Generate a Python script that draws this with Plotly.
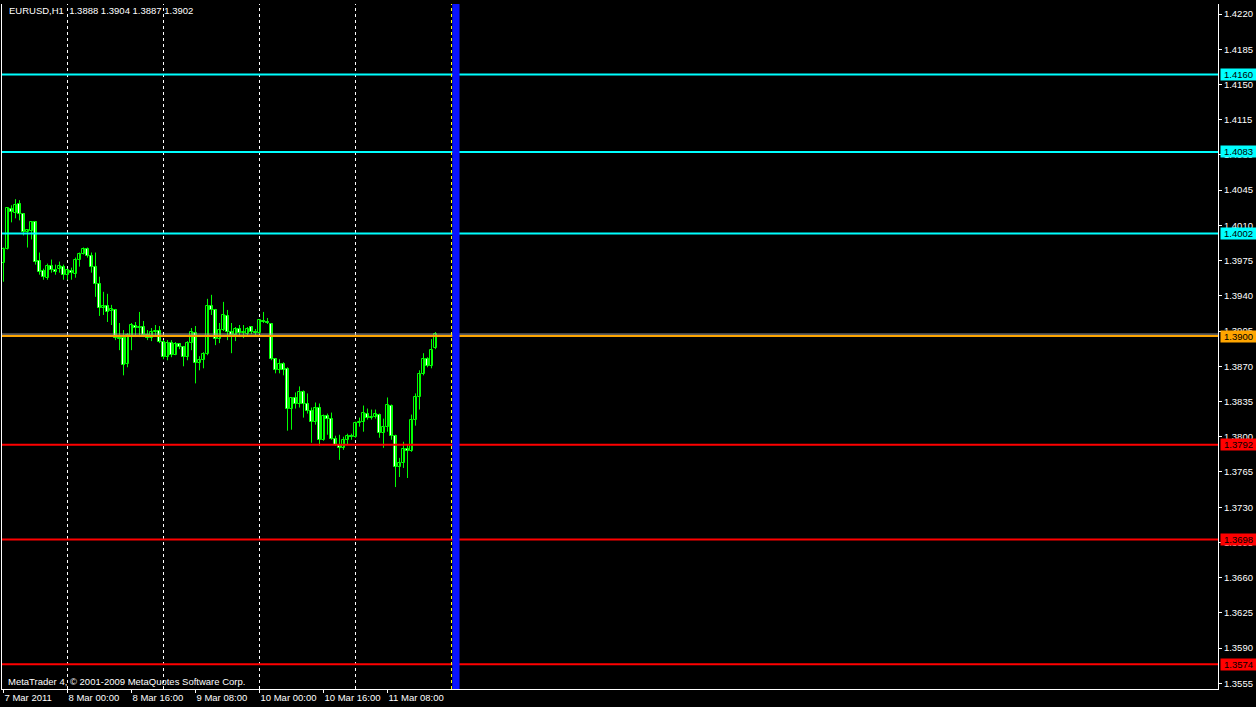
import plotly.graph_objects as go

# ---------------- data ----------------
symbol_title = "EURUSD,H1  1.3888 1.3904 1.3887 1.3902"
copyright_text = "MetaTrader 4, \u00a9 2001-2009 MetaQuotes Software Corp."

# H1 bars, index 0 = 7 Mar 2011 08:00
opens = [1.3973, 1.3987, 1.4026, 1.4022, 1.4031, 1.4021, 1.4003, 1.4004, 1.4013, 1.3975,
         1.3965, 1.3958, 1.3970, 1.3966, 1.3967, 1.3969, 1.3961, 1.3965, 1.3962, 1.3976,
         1.3982, 1.3987, 1.3980, 1.3969, 1.3952, 1.3928, 1.3930, 1.3925, 1.3926, 1.3898,
         1.3898, 1.3872, 1.3900, 1.3910, 1.3908, 1.3909, 1.3901, 1.3898, 1.3904, 1.3905,
         1.3894, 1.3879, 1.3893, 1.3881, 1.3892, 1.3889, 1.3879, 1.3893, 1.3903, 1.3873,
         1.3876, 1.3882, 1.3930, 1.3926, 1.3897, 1.3906, 1.3920, 1.3904, 1.3901, 1.3907,
         1.3903, 1.3902, 1.3909, 1.3904, 1.3903, 1.3915, 1.3914, 1.3912, 1.3877, 1.3866,
         1.3872, 1.3867, 1.3828, 1.3838, 1.3833, 1.3844, 1.3833, 1.3826, 1.3815, 1.3829,
         1.3797, 1.3821, 1.3818, 1.3798, 1.3792, 1.3789, 1.3797, 1.3801, 1.3800, 1.3814,
         1.3815, 1.3823, 1.3819, 1.3820, 1.3822, 1.3804, 1.3810, 1.3831, 1.3801, 1.3770,
         1.3774, 1.3788, 1.3786, 1.3817, 1.3839, 1.3862, 1.3877, 1.3870, 1.3888]
highs = [1.3988, 1.4028, 1.4030, 1.4036, 1.4035, 1.4022, 1.4006, 1.4014, 1.4014, 1.3983,
         1.3967, 1.3972, 1.3976, 1.3971, 1.3974, 1.3971, 1.3967, 1.3968, 1.3978, 1.3983,
         1.3988, 1.3988, 1.3983, 1.3983, 1.3959, 1.3944, 1.3942, 1.3931, 1.3927, 1.3913,
         1.3906, 1.3903, 1.3913, 1.3914, 1.3924, 1.3915, 1.3906, 1.3908, 1.3911, 1.3910,
         1.3896, 1.3896, 1.3896, 1.3894, 1.3893, 1.3890, 1.3895, 1.3908, 1.3910, 1.3880,
         1.3884, 1.3937, 1.3941, 1.3927, 1.3913, 1.3934, 1.3926, 1.3913, 1.3909, 1.3911,
         1.3911, 1.3909, 1.3910, 1.3907, 1.3917, 1.3924, 1.3918, 1.3913, 1.3878, 1.3877,
         1.3874, 1.3869, 1.3839, 1.3844, 1.3850, 1.3846, 1.3843, 1.3829, 1.3834, 1.3833,
         1.3822, 1.3823, 1.3824, 1.3801, 1.3802, 1.3800, 1.3803, 1.3803, 1.3815, 1.3819,
         1.3831, 1.3828, 1.3827, 1.3827, 1.3823, 1.3818, 1.3839, 1.3832, 1.3802, 1.3779,
         1.3795, 1.3792, 1.3822, 1.3843, 1.3866, 1.3883, 1.3879, 1.3897, 1.3904]
lows = [1.3954, 1.3986, 1.4013, 1.4017, 1.4015, 1.4000, 1.3988, 1.3996, 1.3971, 1.3961,
        1.3956, 1.3956, 1.3963, 1.3961, 1.3963, 1.3956, 1.3956, 1.3956, 1.3958, 1.3969,
        1.3981, 1.3978, 1.3963, 1.3939, 1.3920, 1.3921, 1.3914, 1.3911, 1.3896, 1.3886,
        1.3861, 1.3869, 1.3886, 1.3899, 1.3899, 1.3899, 1.3896, 1.3895, 1.3900, 1.3893,
        1.3877, 1.3876, 1.3879, 1.3881, 1.3887, 1.3870, 1.3876, 1.3886, 1.3853, 1.3866,
        1.3868, 1.3881, 1.3921, 1.3891, 1.3893, 1.3905, 1.3896, 1.3883, 1.3895, 1.3899,
        1.3898, 1.3900, 1.3902, 1.3901, 1.3902, 1.3913, 1.3912, 1.3876, 1.3863, 1.3863,
        1.3861, 1.3806, 1.3807, 1.3828, 1.3829, 1.3819, 1.3823, 1.3794, 1.3812, 1.3791,
        1.3796, 1.3802, 1.3797, 1.3791, 1.3777, 1.3787, 1.3792, 1.3797, 1.3799, 1.3810,
        1.3805, 1.3817, 1.3817, 1.3818, 1.3799, 1.3789, 1.3805, 1.3797, 1.3750, 1.3760,
        1.3769, 1.3759, 1.3785, 1.3811, 1.3827, 1.3861, 1.3869, 1.3868, 1.3887]
closes = [1.3987, 1.4027, 1.4023, 1.4030, 1.4021, 1.4003, 1.4005, 1.4013, 1.3974, 1.3964,
          1.3959, 1.3970, 1.3966, 1.3964, 1.3970, 1.3961, 1.3966, 1.3963, 1.3976, 1.3982,
          1.3987, 1.3980, 1.3969, 1.3952, 1.3928, 1.3930, 1.3924, 1.3927, 1.3898, 1.3897,
          1.3871, 1.3901, 1.3911, 1.3908, 1.3909, 1.3901, 1.3898, 1.3904, 1.3905, 1.3894,
          1.3879, 1.3893, 1.3881, 1.3892, 1.3889, 1.3879, 1.3893, 1.3904, 1.3873, 1.3876,
          1.3882, 1.3930, 1.3926, 1.3897, 1.3906, 1.3921, 1.3904, 1.3901, 1.3907, 1.3903,
          1.3904, 1.3907, 1.3904, 1.3903, 1.3916, 1.3914, 1.3913, 1.3877, 1.3866, 1.3872,
          1.3866, 1.3828, 1.3838, 1.3833, 1.3844, 1.3833, 1.3826, 1.3815, 1.3829, 1.3797,
          1.3821, 1.3818, 1.3798, 1.3792, 1.3789, 1.3797, 1.3801, 1.3800, 1.3814, 1.3815,
          1.3824, 1.3819, 1.3820, 1.3823, 1.3804, 1.3810, 1.3832, 1.3801, 1.3770, 1.3774,
          1.3788, 1.3786, 1.3817, 1.3839, 1.3862, 1.3877, 1.3870, 1.3886, 1.3902]

# time axis labels (bar index -> text)
time_tick_index = [0, 16, 32, 48, 64, 80, 96]
time_tick_text = ["7 Mar 2011", "8 Mar 00:00", "8 Mar 16:00", "9 Mar 08:00",
                  "10 Mar 00:00", "10 Mar 16:00", "11 Mar 08:00"]
day_separators = [16, 40, 64, 88]
future_separator = 112
vline_band = [112.2, 114.0]

# price axis
price_ticks = [1.3555, 1.3590, 1.3625, 1.3660, 1.3695, 1.3730, 1.3765, 1.3800, 1.3835,
               1.3870, 1.3905, 1.3940, 1.3975, 1.4010, 1.4045, 1.4080, 1.4115, 1.4150,
               1.4185, 1.4220]
levels = [1.4160, 1.4083, 1.4002, 1.3900, 1.3792, 1.3698, 1.3574]
level_colors = ["#00FFFF", "#00FFFF", "#00FFFF", "#FFA500", "#FF0000", "#FF0000", "#FF0000"]
bid_price = 1.3902

# ---------------- figure ----------------
FONT = "Tahoma, 'Liberation Sans', Arial, sans-serif"
n = len(closes)
idx = list(range(n))

wx, wy = [], []
for i in idx:
    wx += [i, i, None]
    wy += [lows[i], highs[i], None]

fig = go.Figure()
fig.add_trace(go.Scatter(x=wx, y=wy, mode="lines",
                         line=dict(color="#00FF00", width=1),
                         hoverinfo="skip", showlegend=False))
fig.add_trace(go.Bar(x=idx, y=[c - o for o, c in zip(opens, closes)], base=opens,
                     width=0.55,
                     marker=dict(color=["#000000" if c >= o else "#FFFFFF"
                                        for o, c in zip(opens, closes)],
                                 line=dict(color="#00FF00", width=1)),
                     showlegend=False))

shapes = []
for s in day_separators:
    shapes.append(dict(type="line", xref="x", yref="paper", x0=s, x1=s, y0=0, y1=1,
                       line=dict(color="#FFFFFF", width=1, dash="3px,3px"), layer="below"))
for lv, col in zip(levels, level_colors):
    shapes.append(dict(type="line", xref="paper", yref="y", x0=0, x1=1, y0=lv, y1=lv,
                       line=dict(color=col, width=2)))
shapes.append(dict(type="line", xref="paper", yref="y", x0=0, x1=1, y0=bid_price, y1=bid_price,
                   line=dict(color="#A0A0A0", width=1)))
shapes.append(dict(type="rect", xref="x", yref="paper", x0=vline_band[0], x1=vline_band[1],
                   y0=0, y1=1, fillcolor="#0A14FF", line=dict(width=0)))
shapes.append(dict(type="line", xref="x", yref="paper", x0=future_separator, x1=future_separator,
                   y0=0, y1=1, line=dict(color="#FFFF00", width=1, dash="3px,3px")))

annotations = []
for lv, col in zip(levels, level_colors):
    annotations.append(dict(x=1, xref="paper", y=lv, yref="y", xanchor="left", yanchor="middle",
                            xshift=2, text=f"{lv:.4f}", showarrow=False, bgcolor=col,
                            width=35, height=11, borderpad=0, align="center",
                            font=dict(family=FONT, size=9.5, color="#000000")))
annotations.append(dict(x=0.004, xref="paper", y=0.991, yref="paper", xanchor="left",
                        yanchor="middle", text=symbol_title, showarrow=False,
                        font=dict(family=FONT, size=9.5, color="#FFFFFF")))
annotations.append(dict(x=0.003, xref="paper", y=0.011, yref="paper", xanchor="left",
                        yanchor="middle", text=copyright_text, showarrow=False,
                        font=dict(family=FONT, size=9.5, color="#FFFFFF")))

fig.update_layout(
    width=1256, height=707,
    paper_bgcolor="#000000", plot_bgcolor="#000000",
    margin=dict(l=2, r=38, t=4, b=18, autoexpand=False),
    showlegend=False, barmode="overlay", bargap=0,
    shapes=shapes, annotations=annotations,
    font=dict(family=FONT, size=9.5, color="#FFFFFF"),
    xaxis=dict(range=[-0.375, 303.625], showgrid=False, zeroline=False, automargin=False,
               showline=True, linecolor="#FFFFFF", linewidth=1,
               tickvals=time_tick_index, ticktext=time_tick_text, tickangle=0,
               ticks="outside", ticklen=3, tickcolor="#FFFFFF",
               ticklabelposition="outside right",
               tickfont=dict(family=FONT, size=9.5, color="#FFFFFF")),
    yaxis=dict(range=[1.354936, 1.422994], side="right", showgrid=False, zeroline=False,
               automargin=False,
               showline=True, mirror=True, linecolor="#FFFFFF", linewidth=1,
               tickvals=price_ticks, ticktext=[f"{v:.4f}" for v in price_ticks],
               ticks="outside", ticklen=3, tickcolor="#FFFFFF",
               tickfont=dict(family=FONT, size=9.5, color="#FFFFFF")),
)

fig.write_html("out.html", config={"displayModeBar": False},
               post_script="document.body.style.margin='0';document.body.style.background='#000';")
